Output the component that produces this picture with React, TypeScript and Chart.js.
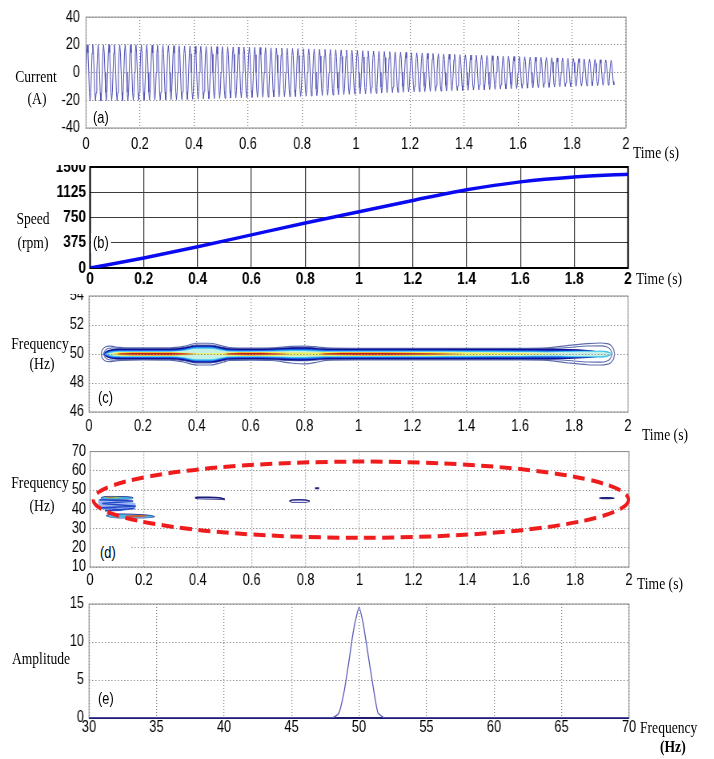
import React, { useEffect, useRef } from "react";
import { Chart, registerables } from "chart.js";

Chart.register(...registerables);

const PAGE_W = 714;
const CW = 892; // internal canvas width, shown compressed to PAGE_W
const S = PAGE_W / CW;

const FONT_SANS = "'Liberation Sans', Arial, sans-serif";
const FONT_SERIF = "'Liberation Serif', 'Times New Roman', serif";

// ---------- (a) stator current ----------
const SUPPLY_HZ = 50;
const CURRENT_END = 1.955;
const WAVE_SHAPE = [0, 0.71, 1, 0.71, 0, -0.71, -1, -0.71]; // one cycle, 8 samples
const ENV_T = [0, 0.2, 0.4, 0.6, 0.8, 1.0, 1.2, 1.4, 1.6, 1.8, 1.955];
const ENV_POS = [20, 20, 19, 18.3, 17.2, 16, 14.4, 12.8, 11.5, 10.2, 8.8];
const ENV_NEG = [-20.5, -20, -19.3, -18, -17.2, -15.5, -14, -12.9, -11.5, -10, -9];
const CURRENT_TICKS = [-40, -20, 0, 20, 40];
const TIME_TICKS = [0, 0.2, 0.4, 0.6, 0.8, 1, 1.2, 1.4, 1.6, 1.8, 2];

// ---------- (b) speed ----------
const SPEED_T = [0, 0.2, 0.4, 0.6, 0.8, 1.0, 1.2, 1.4, 1.6, 1.8, 2.0];
const SPEED_RPM = [0, 148, 315, 492, 669, 836, 1003, 1161, 1279, 1352, 1392];
const SPEED_TICKS = [0, 375, 750, 1125, 1500];

// ---------- (c) time-frequency contour around 50 Hz (half-widths in Hz) ----------
const TF_CENTER = 50;
const TF_T = [0.045, 0.048, 0.053, 0.06, 0.075, 0.09, 0.1, 0.12, 0.2, 0.3, 0.35, 0.4, 0.45, 0.5, 0.52, 0.6, 0.68, 0.75, 0.8, 0.85, 0.88, 1.0, 1.1, 1.27, 1.4, 1.6, 1.7, 1.78, 1.85, 1.9, 1.92, 1.935, 1.942, 1.947, 1.95];
const TF_OUTER_UP = [0, 0.24, 0.37, 0.48, 0.55, 0.52, 0.48, 0.45, 0.42, 0.42, 0.52, 0.74, 0.74, 0.52, 0.45, 0.4, 0.42, 0.52, 0.55, 0.48, 0.42, 0.39, 0.39, 0.39, 0.39, 0.39, 0.42, 0.6, 0.72, 0.76, 0.72, 0.62, 0.47, 0.3, 0];
const TF_OUTER_LO = [0, 0.24, 0.37, 0.48, 0.53, 0.5, 0.47, 0.44, 0.4, 0.42, 0.55, 0.76, 0.76, 0.55, 0.45, 0.42, 0.45, 0.62, 0.68, 0.55, 0.44, 0.41, 0.41, 0.41, 0.41, 0.41, 0.44, 0.62, 0.74, 0.76, 0.72, 0.62, 0.47, 0.3, 0];
const TF_RING = [null, null, 0, 0.25, 0.4, 0.42, 0.4, 0.38, 0.37, 0.37, 0.45, 0.62, 0.62, 0.45, 0.39, 0.37, 0.39, 0.45, 0.47, 0.41, 0.38, 0.37, 0.37, 0.37, 0.37, 0.37, 0.38, 0.45, 0.55, 0.56, 0.5, 0.3, 0, null, null];
const TF_DARK = [0, 0, 0, 0.15, 0.3, 0.35, 0.36, 0.37, 0.37, 0.37, 0.44, 0.6, 0.6, 0.44, 0.38, 0.37, 0.38, 0.44, 0.46, 0.4, 0.37, 0.37, 0.37, 0.37, 0.37, 0.37, 0.36, 0.34, 0.28, 0.15, 0, 0, 0, 0, 0];
const TF_BLUE = [0, 0, 0, 0.08, 0.2, 0.25, 0.26, 0.27, 0.27, 0.27, 0.35, 0.52, 0.52, 0.35, 0.29, 0.27, 0.29, 0.34, 0.36, 0.31, 0.28, 0.27, 0.27, 0.27, 0.27, 0.26, 0.25, 0.25, 0.22, 0.1, 0, 0, 0, 0, 0];
const TF_CYAN = [0, 0, 0, 0, 0.14, 0.19, 0.2, 0.21, 0.21, 0.21, 0.28, 0.45, 0.45, 0.28, 0.23, 0.21, 0.23, 0.27, 0.28, 0.24, 0.21, 0.21, 0.21, 0.21, 0.2, 0.19, 0.18, 0.2, 0.22, 0.25, 0.2, 0.1, 0, 0, 0];
const TF_PALE = [0, 0, 0, 0, 0.06, 0.12, 0.14, 0.15, 0.16, 0.16, 0.22, 0.36, 0.36, 0.22, 0.17, 0.16, 0.17, 0.2, 0.21, 0.18, 0.16, 0.16, 0.16, 0.15, 0.14, 0.13, 0.12, 0.13, 0.15, 0.15, 0.1, 0.03, 0, 0, 0];
const TF_YELLOW = [0, 0, 0, 0, 0, 0.06, 0.1, 0.13, 0.14, 0.14, 0.1, 0.05, 0.05, 0.09, 0.12, 0.14, 0.13, 0.11, 0.1, 0.11, 0.13, 0.13, 0.13, 0.13, 0.1, 0.07, 0.04, 0, 0, 0, 0, 0, 0, 0, 0];
const TF_ORANGE = [0, 0, 0, 0, 0, 0, 0, 0.07, 0.1, 0.1, 0.06, 0, 0, 0, 0.06, 0.1, 0.07, 0, 0, 0, 0.06, 0.1, 0.1, 0.06, 0, 0, 0, 0, 0, 0, 0, 0, 0, 0, 0];
const TF_RED = [0, 0, 0, 0, 0, 0, 0, 0.04, 0.065, 0.065, 0.035, 0, 0, 0, 0.035, 0.065, 0.04, 0, 0, 0, 0.035, 0.065, 0.065, 0.035, 0, 0, 0, 0, 0, 0, 0, 0, 0, 0, 0];
const FREQ_C_TICKS = [46, 48, 50, 52, 54];

// ---------- (d) time-frequency after filtering ----------
const D_TOP_T = [0.04, 0.05, 0.08, 0.12, 0.155, 0.16];
const D_TOP_UP = [45.9, 46.5, 46.7, 46.6, 46.3, 46.0];
const D_TOP_LO = [45.9, 45.2, 45.1, 45.2, 45.5, 45.9];
const D_HOT1_T = [0.05, 0.07, 0.1, 0.12];
const D_HOT1_UP = [46.2, 46.55, 46.55, 46.2];
const D_HOT1_LO = [46.2, 45.8, 45.8, 46.2];
const D_RED1_T = [0.06, 0.075, 0.09];
const D_RED1_UP = [46.3, 46.55, 46.3];
const D_RED1_LO = [46.3, 46.05, 46.3];
const D_MID_T = [0.03, 0.06, 0.1, 0.14, 0.17];
const D_MID_UP = [45, 45, 44.8, 44.5, 43];
const D_MID_LO = [41, 39.5, 39, 39.5, 40.5];
const D_CROSS_T = [0.035, 0.16, 0.045, 0.17, 0.04, 0.12, 0.055, 0.165];
const D_CROSS_F = [45, 44.3, 43, 41.6, 40.8, 39.6, 39.2, 40.4];
const D_BOT_T = [0.06, 0.08, 0.12, 0.18, 0.22, 0.24];
const D_BOT_UP = [36.8, 37.5, 37.6, 37.3, 36.9, 36.3];
const D_BOT_LO = [36.6, 35.8, 35.5, 35.5, 35.7, 36.1];
const D_HOT2_T = [0.13, 0.16, 0.19, 0.21];
const D_HOT2_UP = [36.6, 37.1, 37.0, 36.6];
const D_HOT2_LO = [36.4, 35.9, 35.9, 36.3];
const D2_T = [0.39, 0.4, 0.44, 0.48, 0.5];
const D2_UP = [46.1, 46.3, 46.3, 46.0, 45.2];
const D2_LO = [46.1, 45.6, 45.5, 45.3, 45.1];
const D3_T = [0.74, 0.75, 0.775, 0.8, 0.815];
const D3_UP = [44.3, 44.8, 45.0, 44.85, 44.3];
const D3_LO = [44.3, 43.8, 43.6, 43.75, 44.2];
const D4_T = [0.835, 0.85];
const D4_F = [50.9, 50.9];
const D5_T = [1.89, 1.9, 1.93, 1.945];
const D5_UP = [45.8, 46.1, 46.1, 45.8];
const D5_LO = [45.8, 45.5, 45.5, 45.7];
const FREQ_D_TICKS = [10, 20, 30, 40, 50, 60, 70];
// highlight ellipse (centre / half-axes in data units)
const ELLIPSE_T = 1.005;
const ELLIPSE_F = 45;
const ELLIPSE_RT = 0.993;
const ELLIPSE_RF = 19.8;

// ---------- (e) spectrum ----------
const SPEC_F = [30, 48.0, 48.5, 48.9, 49.3, 49.5, 49.7, 50.0, 50.3, 50.5, 50.7, 51.1, 51.4, 51.9, 70];
const SPEC_A = [0, 0, 0.6, 3.5, 8, 10.5, 12.5, 14.6, 12.5, 10.3, 8, 3.5, 0.7, 0, 0];
const SPEC_TICKS = [30, 35, 40, 45, 50, 55, 60, 65, 70];
const AMP_TICKS = [0, 5, 10, 15];

// ---------- helpers ----------
function envAt(t: number, ts: number[], vs: number[]) {
  if (t <= ts[0]) return vs[0];
  for (let i = 1; i < ts.length; i++) {
    if (t <= ts[i]) {
      const f = (t - ts[i - 1]) / (ts[i] - ts[i - 1]);
      return vs[i - 1] + f * (vs[i] - vs[i - 1]);
    }
  }
  return vs[vs.length - 1];
}

function currentPoints() {
  const pts: { x: number; y: number }[] = [];
  const n = WAVE_SHAPE.length;
  const dt = 1 / SUPPLY_HZ / n;
  const count = Math.floor(CURRENT_END / dt);
  for (let k = 0; k <= count; k++) {
    const t = k * dt;
    const s = WAVE_SHAPE[k % n];
    const y = s >= 0 ? s * envAt(t, ENV_T, ENV_POS) : -s * envAt(t, ENV_T, ENV_NEG);
    pts.push({ x: t, y });
  }
  return pts;
}

function xy(xs: number[], ys: (number | null)[]) {
  return xs.map((x, i) => ({ x, y: ys[i] }));
}

function bandSets(xs: number[], up: (number | null)[], lo: (number | null)[], fillColor: string | null, stroke = "rgba(0,0,0,0)", sw = 0) {
  const common: any = { pointRadius: 0, borderColor: stroke, borderWidth: sw, cubicInterpolationMode: "monotone", spanGaps: false };
  return [
    { ...common, data: xy(xs, up), fill: fillColor ? "+1" : false, backgroundColor: fillColor || "rgba(0,0,0,0)" },
    { ...common, data: xy(xs, lo), fill: false, backgroundColor: "rgba(0,0,0,0)" },
  ];
}

const plus = (arr: (number | null)[]) => arr.map((h) => (h === null ? null : TF_CENTER + h));
const minus = (arr: (number | null)[]) => arr.map((h) => (h === null ? null : TF_CENTER - h));

type Geo = { top: number; height: number; clipTop?: number; l: number; t: number; r: number; b: number };

const GEO_A: Geo = { top: 0, height: 160, l: 86, t: 14, r: 626, b: 128 };
const GEO_B: Geo = { top: 150, height: 140, clipTop: 165, l: 90, t: 167, r: 628, b: 268 };
const GEO_C: Geo = { top: 280, height: 156, clipTop: 294, l: 89, t: 296, r: 628, b: 412 };
const GEO_D: Geo = { top: 437, height: 153, l: 90, t: 450, r: 629, b: 567 };
const GEO_E: Geo = { top: 588, height: 171, l: 89, t: 604, r: 629, b: 718 };

const framePlugin: any = {
  id: "frame",
  beforeDatasetsDraw(chart: any, _a: any, opts: any) {
    const { ctx, chartArea: a } = chart;
    ctx.save();
    ctx.strokeStyle = opts.color;
    ctx.lineWidth = opts.width;
    ctx.strokeRect(a.left, a.top, a.right - a.left, a.bottom - a.top);
    if (opts.bottomColor) {
      ctx.strokeStyle = opts.bottomColor;
      ctx.lineWidth = opts.bottomWidth;
      ctx.beginPath();
      ctx.moveTo(a.left, a.bottom);
      ctx.lineTo(a.right, a.bottom);
      ctx.stroke();
    }
    ctx.restore();
  },
};

const ellipsePlugin: any = {
  id: "ellipse",
  afterDatasetsDraw(chart: any, _a: any, opts: any) {
    const { ctx } = chart;
    const xs = chart.scales.x;
    const ys = chart.scales.y;
    const cx = xs.getPixelForValue(opts.t);
    const cy = ys.getPixelForValue(opts.f);
    const rx = Math.abs(xs.getPixelForValue(opts.t + opts.rt) - cx);
    const ry = Math.abs(ys.getPixelForValue(opts.f + opts.rf) - cy);
    ctx.save();
    ctx.setLineDash(opts.dash);
    ctx.lineWidth = opts.width;
    ctx.strokeStyle = opts.color;
    ctx.beginPath();
    ctx.ellipse(cx, cy, rx, ry, 0, 0, Math.PI * 2);
    ctx.stroke();
    ctx.restore();
  },
};

const fmt = (v: any) => `${Math.round(Number(v) * 100) / 100}`;

type AxisP = {
  xMin: number; xMax: number; xTicks: number[];
  yMin: number; yMax: number; yTicks: number[];
  font: any; xPad: number; yGap: number;
  gridColor: string; gridDashH: number[]; gridDashV: number[]; gridW: number; yGridZ?: number;
  frame: any; plugins?: any;
};

function makeOptions(geo: Geo, p: AxisP) {
  return {
    responsive: false,
    animation: false,
    devicePixelRatio: 1,
    events: [],
    layout: { padding: { left: 0, right: (PAGE_W - geo.r) / S, top: geo.t - geo.top, bottom: 0 } },
    plugins: { legend: { display: false }, tooltip: { enabled: false }, frame: p.frame, ...(p.plugins || {}) },
    elements: { point: { radius: 0 }, line: { tension: 0 } },
    scales: {
      x: {
        type: "linear",
        min: p.xMin,
        max: p.xMax,
        afterBuildTicks: (s: any) => { s.ticks = p.xTicks.map((v) => ({ value: v })); },
        afterFit: (s: any) => { s.height = geo.top + geo.height - geo.b; },
        grid: { color: p.gridColor, lineWidth: p.gridW / S, drawTicks: false },
        border: { display: false, dash: p.gridDashV },
        ticks: { autoSkip: false, maxRotation: 0, minRotation: 0, padding: p.xPad, color: "#000", font: p.font, callback: fmt },
      },
      y: {
        type: "linear",
        min: p.yMin,
        max: p.yMax,
        afterBuildTicks: (s: any) => { s.ticks = p.yTicks.map((v) => ({ value: v })); },
        afterFit: (s: any) => { s.width = geo.l / S; },
        grid: { color: p.gridColor, lineWidth: p.gridW, drawTicks: false, z: p.yGridZ || 0 },
        border: { display: false, dash: p.gridDashH },
        ticks: { autoSkip: false, padding: p.yGap / S, color: "#000", font: p.font, callback: fmt },
      },
    },
  };
}

const DOT_H = [1.5, 2.5];
const DOT_V = [1, 2];
const FONT_TICK = { family: FONT_SANS, size: 16 };
const GREY_FRAME = { color: "#8a8a8a", width: 1 };

function configA() {
  return {
    type: "line",
    data: {
      datasets: [{ data: currentPoints(), borderColor: "#5050b4", borderWidth: 1, pointRadius: 0, fill: false }],
    },
    options: makeOptions(GEO_A, {
      xMin: 0, xMax: 2, xTicks: TIME_TICKS, yMin: -40, yMax: 40, yTicks: CURRENT_TICKS,
      font: FONT_TICK, xPad: 7, yGap: 6, gridColor: "#8c8c8c", gridDashH: DOT_H, gridDashV: DOT_V, gridW: 1,
      frame: GREY_FRAME,
    }),
    plugins: [framePlugin],
  };
}

function configB() {
  return {
    type: "line",
    data: {
      datasets: [{ data: xy(SPEED_T, SPEED_RPM), borderColor: "#0a0af0", borderWidth: 3.5, pointRadius: 0, cubicInterpolationMode: "monotone", fill: false }],
    },
    options: makeOptions(GEO_B, {
      xMin: 0, xMax: 2, xTicks: TIME_TICKS, yMin: 0, yMax: 1500, yTicks: SPEED_TICKS,
      font: { family: FONT_SANS, size: 17, weight: "bold" }, xPad: 1, yGap: 4, gridColor: "#3c3c3c", gridDashH: [], gridDashV: [], gridW: 1,
      frame: { color: "#000", width: 2 },
    }),
    plugins: [framePlugin],
  };
}

function configC() {
  const levels: [number[], string][] = [
    [TF_RED, "#c81e0a"],
    [TF_ORANGE, "#f08c28"],
    [TF_YELLOW, "#eef05a"],
    [TF_PALE, "#c6f0e6"],
    [TF_CYAN, "#3cc4f0"],
    [TF_BLUE, "#1c5ee6"],
    [TF_DARK, "#0c1096"],
  ];
  const datasets: any[] = [];
  for (const [hw, color] of levels) {
    datasets.push(...bandSets(TF_T, plus(hw), minus(hw), color));
  }
  datasets.push(...bandSets(TF_T, plus(TF_RING), minus(TF_RING), null, "#5d6cae", 1.1));
  datasets.push(...bandSets(TF_T, plus(TF_OUTER_UP), minus(TF_OUTER_LO), null, "#5d6cae", 1.2));
  return {
    type: "line",
    data: { datasets },
    options: makeOptions(GEO_C, {
      xMin: 0, xMax: 2, xTicks: TIME_TICKS, yMin: 46, yMax: 54, yTicks: FREQ_C_TICKS,
      font: FONT_TICK, xPad: 5, yGap: 5, gridColor: "#8c8c8c", gridDashH: DOT_H, gridDashV: DOT_V, gridW: 1, yGridZ: 1,
      frame: GREY_FRAME,
    }),
    plugins: [framePlugin],
  };
}

function configD() {
  const navy = "#1a1a78";
  const datasets: any[] = [
    { data: xy(D4_T, D4_F), borderColor: navy, borderWidth: 2, pointRadius: 0, fill: false },
    ...bandSets(D5_T, D5_UP, D5_LO, navy, navy, 1),
    ...bandSets(D3_T, D3_UP, D3_LO, "#dfe4f8", "#2a2a86", 1.5),
    ...bandSets(D2_T, D2_UP, D2_LO, "#aab4e2", navy, 1.5),
    ...bandSets(D_HOT2_T, D_HOT2_UP, D_HOT2_LO, "#c4603a"),
    ...bandSets(D_BOT_T, D_BOT_UP, D_BOT_LO, "#50b8e8", "#23308e", 0.9),
    { data: xy(D_CROSS_T, D_CROSS_F), borderColor: "#2446c8", borderWidth: 1.5, pointRadius: 0, fill: false },
    ...bandSets(D_RED1_T, D_RED1_UP, D_RED1_LO, "#c8503c"),
    ...bandSets(D_HOT1_T, D_HOT1_UP, D_HOT1_LO, "#8cc850"),
    ...bandSets(D_TOP_T, D_TOP_UP, D_TOP_LO, "#46b4e6", "#23308e", 0.9),
    ...bandSets(D_MID_T, D_MID_UP, D_MID_LO, "rgba(50,110,225,0.5)"),
  ];
  return {
    type: "line",
    data: { datasets },
    options: makeOptions(GEO_D, {
      xMin: 0, xMax: 2, xTicks: TIME_TICKS, yMin: 10, yMax: 70, yTicks: FREQ_D_TICKS,
      font: FONT_TICK, xPad: 4, yGap: 4, gridColor: "#8c8c8c", gridDashH: DOT_H, gridDashV: DOT_V, gridW: 1,
      frame: GREY_FRAME,
      plugins: { ellipse: { t: ELLIPSE_T, f: ELLIPSE_F, rt: ELLIPSE_RT, rf: ELLIPSE_RF, dash: [15, 8], width: 4, color: "#ee1c1c" } },
    }),
    plugins: [framePlugin, ellipsePlugin],
  };
}

function configE() {
  return {
    type: "line",
    data: {
      datasets: [{ data: xy(SPEC_F, SPEC_A), borderColor: "#5a5ab8", borderWidth: 1.3, pointRadius: 0, tension: 0.15, fill: false }],
    },
    options: makeOptions(GEO_E, {
      xMin: 30, xMax: 70, xTicks: SPEC_TICKS, yMin: 0, yMax: 15, yTicks: AMP_TICKS,
      font: FONT_TICK, xPad: 0, yGap: 5, gridColor: "#8c8c8c", gridDashH: DOT_H, gridDashV: DOT_V, gridW: 1,
      frame: { color: "#8a8a8a", width: 1, bottomColor: "#1c1c6a", bottomWidth: 2 },
    }),
    plugins: [framePlugin],
  };
}

function PanelChart({ geo, build }: { geo: Geo; build: () => any }) {
  const ref = useRef<HTMLCanvasElement>(null);
  useEffect(() => {
    const chart = new Chart(ref.current as HTMLCanvasElement, build());
    return () => chart.destroy();
  }, []);
  const clipTop = geo.clipTop ?? geo.top;
  return (
    <div style={{ position: "absolute", left: 0, top: clipTop, width: PAGE_W, height: geo.top + geo.height - clipTop, overflow: "hidden" }}>
      <canvas
        ref={ref}
        width={CW}
        height={geo.height}
        style={{ position: "absolute", left: 0, top: geo.top - clipTop, width: PAGE_W, height: geo.height, display: "block" }}
      />
    </div>
  );
}

function Txt({ x, y, text, anchor = "center", family = FONT_SERIF, size = 17, bold = false }: any) {
  const style: any = {
    position: "absolute",
    left: x,
    top: y,
    fontFamily: family,
    fontSize: size,
    fontWeight: bold ? "bold" : "normal",
    lineHeight: 1,
    whiteSpace: "nowrap",
    color: "#000",
    transform: anchor === "center" ? "translate(-50%, -50%) scaleX(0.8)" : "translateY(-50%) scaleX(0.8)",
    transformOrigin: anchor === "center" ? "center center" : "left center",
  };
  return <div style={style}>{text}</div>;
}

function Box({ x, y, w, h }: any) {
  return <div style={{ position: "absolute", left: x, top: y, width: w, height: h, background: "#fff" }} />;
}

export default function App() {
  return (
    <div style={{ position: "absolute", left: 0, top: 0, width: PAGE_W, height: 759, background: "#fff", overflow: "hidden" }}>
      <PanelChart geo={GEO_A} build={configA} />
      <PanelChart geo={GEO_B} build={configB} />
      <PanelChart geo={GEO_C} build={configC} />
      <PanelChart geo={GEO_D} build={configD} />
      <PanelChart geo={GEO_E} build={configE} />

      {/* (a) */}
      <Txt x={36} y={76} text="Current" />
      <Txt x={37} y={98} text="(A)" />
      <Txt x={93} y={118} text="(a)" anchor="left" family={FONT_SANS} size={16} />
      <Txt x={633} y={152} text="Time (s)" anchor="left" />

      {/* (b) */}
      <Txt x={33} y={218} text="Speed" />
      <Txt x={33} y={242} text="(rpm)" />
      <Box x={91} y={233} w={20} h={20} />
      <Txt x={93} y={243} text="(b)" anchor="left" family={FONT_SANS} size={16} />
      <Txt x={636} y={278} text="Time (s)" anchor="left" />

      {/* (c) */}
      <Txt x={40} y={343} text="Frequency" />
      <Txt x={42} y={363} text="(Hz)" />
      <Txt x={98} y={398} text="(c)" anchor="left" family={FONT_SANS} size={16} />
      <Txt x={642} y={434} text="Time (s)" anchor="left" />

      {/* (d) */}
      <Txt x={40} y={482} text="Frequency" />
      <Txt x={42} y={505} text="(Hz)" />
      <Box x={91} y={543} w={40} h={21} />
      <Txt x={100} y={553} text="(d)" anchor="left" family={FONT_SANS} size={16} />
      <Txt x={637} y={583} text="Time (s)" anchor="left" />

      {/* (e) */}
      <Txt x={41} y={658} text="Amplitude" />
      <Txt x={98} y={699} text="(e)" anchor="left" family={FONT_SANS} size={16} />
      <Txt x={640} y={727} text="Frequency" anchor="left" />
      <Txt x={660} y={746} text="(Hz)" anchor="left" bold />
    </div>
  );
}
